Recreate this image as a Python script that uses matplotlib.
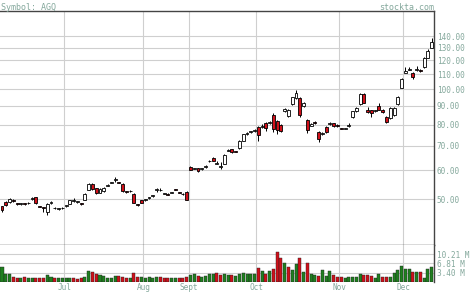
import matplotlib
matplotlib.use("Agg")
import matplotlib.pyplot as plt
from matplotlib.ticker import FixedLocator, FixedFormatter, NullLocator

# daily candles, AGQ mid-June .. early Dec
opens = [47.8, 49.0, 49.0, 49.6, 48.7, 48.5, 48.6, 48.7, 50.1, 50.5,
         47.7, 47.4, 46.2, 48.8, 47.3, 47.0, 47.2, 47.8, 48.6, 49.4,
         49.1, 48.6, 49.8, 53.0, 55.0, 53.5, 52.0, 52.5, 54.4, 55.4,
         56.4, 55.6, 55.0, 52.4, 52.5, 51.6, 48.4, 49.6, 49.7, 50.3,
         51.0, 53.0, 52.8, 51.7, 51.6, 52.0, 53.1, 52.2, 51.7, 52.3,
         61.4, 60.5, 60.8, 60.4, 61.2, 63.4, 65.0, 62.4, 61.2, 62.5,
         67.8, 68.5, 67.6, 69.0, 72.2, 75.4, 76.4, 76.8, 79.0, 78.8,
         81.0, 80.8, 85.0, 82.0, 80.0, 87.0, 84.5, 91.0, 94.5, 94.5,
         90.0, 82.5, 79.5, 81.2, 76.5, 75.2, 79.0, 80.4, 80.6, 80.0,
         78.2, 78.0, 79.3, 84.0, 87.0, 91.0, 97.0, 88.0, 87.5, 87.0,
         90.0, 88.0, 84.0, 83.5, 85.0, 91.0, 101.0, 111.0, 113.2, 111.0,
         113.0, 112.5, 115.0, 122.0, 130.0]
closes = [46.6, 48.1, 50.0, 49.4, 48.5, 48.6, 48.5, 48.8, 50.2, 48.7,
          47.6, 47.2, 48.4, 49.2, 47.1, 47.1, 47.3, 48.1, 49.6, 49.5,
          49.3, 48.5, 51.5, 55.0, 53.2, 51.8, 53.4, 53.6, 54.8, 55.6,
          56.5, 55.4, 52.6, 52.3, 52.7, 48.9, 48.3, 48.9, 49.9, 50.6,
          51.2, 53.1, 52.9, 51.8, 51.4, 52.1, 53.0, 52.0, 51.5, 49.8,
          60.1, 60.7, 59.6, 60.6, 61.6, 63.6, 63.6, 62.6, 61.3, 66.0,
          68.2, 67.2, 67.4, 72.0, 75.2, 75.6, 76.6, 77.2, 74.8, 79.2,
          78.2, 81.0, 78.0, 77.5, 77.0, 88.5, 88.0, 95.0, 98.0, 85.0,
          92.0, 77.5, 80.2, 81.0, 73.0, 75.8, 76.2, 80.8, 79.4, 79.2,
          78.0, 78.2, 79.6, 87.0, 88.8, 97.0, 92.0, 86.6, 86.2, 87.6,
          88.0, 86.5, 81.5, 89.0, 89.0, 95.5, 107.0, 112.0, 113.5, 108.0,
          113.4, 112.2, 122.0, 127.0, 135.0]
highs = [48.0, 49.3, 50.4, 49.9, 48.9, 48.8, 48.8, 49.0, 50.6, 50.7,
         47.9, 47.6, 48.7, 49.4, 47.6, 47.3, 47.5, 48.3, 49.8, 50.3,
         49.5, 48.8, 51.8, 55.3, 55.2, 53.7, 53.6, 53.8, 55.0, 55.8,
         57.4, 55.8, 55.2, 52.6, 53.0, 51.8, 48.6, 49.8, 50.1, 50.8,
         51.4, 53.7, 53.6, 52.0, 51.8, 52.3, 53.3, 52.4, 51.9, 52.5,
         61.6, 61.0, 61.0, 60.8, 61.8, 63.8, 65.3, 63.6, 63.0, 66.3,
         68.5, 68.8, 67.9, 72.4, 75.6, 76.6, 76.9, 77.6, 79.4, 80.4,
         81.4, 81.6, 86.0, 82.5, 80.4, 89.0, 88.4, 95.4, 99.5, 95.0,
         92.5, 83.0, 80.6, 81.6, 77.0, 76.2, 79.3, 81.2, 81.0, 80.3,
         78.5, 78.5, 80.6, 87.4, 89.6, 97.5, 97.4, 89.5, 88.0, 88.0,
         91.5, 88.3, 84.3, 89.4, 89.3, 95.8, 107.4, 115.0, 114.8, 111.4,
         115.5, 113.6, 122.5, 129.0, 138.5]
lows = [46.2, 47.8, 48.8, 49.1, 48.3, 48.3, 48.3, 48.5, 49.8, 48.5,
        47.4, 46.0, 45.2, 48.6, 46.9, 46.8, 47.0, 47.6, 48.4, 49.2,
        48.9, 48.3, 49.6, 52.8, 53.0, 51.5, 51.8, 52.3, 54.2, 55.2,
        55.8, 55.2, 52.4, 52.0, 52.3, 48.7, 47.8, 48.7, 49.5, 50.1,
        50.8, 52.4, 52.6, 51.5, 51.2, 51.8, 52.8, 51.8, 51.3, 49.6,
        59.9, 60.3, 59.4, 60.2, 61.0, 63.2, 63.4, 62.2, 60.4, 62.3,
        67.6, 67.0, 67.2, 68.8, 72.0, 75.0, 76.0, 76.4, 72.0, 78.4,
        76.8, 80.4, 76.5, 75.5, 76.5, 86.5, 84.0, 90.5, 94.0, 84.0,
        89.5, 76.0, 79.2, 80.4, 71.5, 74.8, 75.8, 80.0, 79.0, 78.9,
        77.7, 77.6, 79.0, 83.6, 86.8, 90.5, 91.5, 86.0, 84.0, 86.5,
        87.6, 86.0, 81.0, 83.0, 84.5, 90.6, 100.6, 110.5, 112.8, 106.5,
        112.5, 111.8, 114.6, 121.5, 129.5]
# volume in millions
volumes = [5.5, 3.0, 2.8, 1.8, 1.6, 1.5, 1.8, 1.4, 1.5, 1.3,
           1.6, 1.4, 2.4, 1.7, 1.5, 1.4, 1.5, 1.3, 1.6, 1.5,
           1.2, 1.6, 2.0, 4.0, 3.6, 3.0, 2.6, 2.2, 1.6, 1.4,
           2.2, 2.2, 2.0, 1.6, 1.5, 3.2, 1.8, 1.8, 1.6, 1.7,
           1.5, 1.9, 1.7, 1.5, 1.6, 1.5, 1.4, 1.3, 1.4, 1.9,
           2.6, 2.9, 2.3, 1.8, 2.2, 2.8, 3.0, 3.4, 2.6, 3.0,
           2.4, 2.6, 2.2, 3.0, 3.4, 3.0, 3.0, 2.8, 5.0, 4.0,
           3.0, 4.0, 4.7, 11.0, 8.8, 7.0, 5.5, 4.4, 6.6, 8.8,
           3.7, 7.0, 3.0, 2.6, 2.2, 4.4, 2.2, 4.0, 2.6, 1.8,
           1.8, 1.6, 1.8, 1.7, 2.0, 3.0, 2.6, 2.4, 2.2, 1.5,
           2.8, 2.0, 1.9, 2.0, 3.2, 4.4, 5.9, 4.7, 4.7, 3.7,
           3.7, 3.7, 1.5, 4.7, 5.5]

months = ["Jul", "Aug", "Sept", "Oct", "Nov", "Dec"]
month_start = [16.5, 37.5, 49.5, 67.5, 89.5, 106.5]
price_ticks = [50, 60, 70, 80, 90, 100, 110, 120, 130, 140]
vol_ticks = [3.40, 6.81, 10.21]

txt = "#84a89c"
grid = "#cfcfcf"
frame = "#444444"
red = "#d0101a"
green = "#1f801f"
mono = "DejaVu Sans Mono"

fig = plt.figure(figsize=(4.74, 2.93), dpi=100)
ax = fig.add_axes([0, 0.1638, 0.9156, 0.7987])
axv = fig.add_axes([0, 0.0375, 0.9156, 0.1263], sharex=ax)

n = len(closes)
idx = list(range(n))

# price panel
ax.set_yscale("log")
ax.set_ylim(37.4, 164)
ax.set_xlim(-0.53, n - 0.4)
for i in idx:
    ax.vlines(i, lows[i], highs[i], color="black", lw=0.7, zorder=2)
    lo = min(opens[i], closes[i])
    h = max(abs(closes[i] - opens[i]), lo * 0.004)
    fc = "white" if closes[i] >= opens[i] else red
    ax.bar(i, h, bottom=lo, width=0.78, color=fc, edgecolor="black",
           linewidth=0.6, zorder=3)

ax.yaxis.set_major_locator(FixedLocator(price_ticks))
ax.yaxis.set_major_formatter(FixedFormatter(["%.2f" % p for p in price_ticks]))
ax.yaxis.set_minor_locator(NullLocator())
ax.yaxis.tick_right()
ax.tick_params(axis="y", length=0, pad=2, labelsize=5.6, labelcolor=txt)
ax.tick_params(axis="x", length=0, labelbottom=False)
for lbl in ax.get_yticklabels():
    lbl.set_family(mono)
for p in price_ticks:
    ax.axhline(p, color=grid, lw=0.8, zorder=0)
for m in month_start:
    ax.axvline(m, color=grid, lw=0.8, zorder=0)
ax.spines["left"].set_visible(False)
for s in ["top", "right", "bottom"]:
    ax.spines[s].set_color(frame)
    ax.spines[s].set_linewidth(1.0)

# volume panel
vcol = [green] + [green if closes[i] >= closes[i - 1] else red for i in idx[1:]]
axv.bar(idx, volumes, width=0.8, color=vcol, edgecolor="#222222", linewidth=0.3, zorder=2)
axv.set_ylim(0, 13.5)
axv.yaxis.set_major_locator(FixedLocator(vol_ticks))
axv.yaxis.set_major_formatter(FixedFormatter(["%.2f M" % v for v in vol_ticks]))
axv.yaxis.tick_right()
axv.tick_params(axis="y", length=0, pad=2, labelsize=5.6, labelcolor=txt)
for v in vol_ticks:
    axv.axhline(v, color=grid, lw=0.8, zorder=0)
for m in month_start:
    axv.axvline(m, color=grid, lw=0.8, zorder=0)
axv.xaxis.set_major_locator(FixedLocator(month_start))
axv.xaxis.set_major_formatter(FixedFormatter(months))
axv.tick_params(axis="x", length=0, pad=1, labelsize=5.6, labelcolor=txt)
for lbl in axv.get_xticklabels() + axv.get_yticklabels():
    lbl.set_family(mono)
for s in ["left", "top", "bottom"]:
    axv.spines[s].set_visible(False)
axv.spines["right"].set_color(frame)
axv.spines["right"].set_linewidth(1.0)

fig.text(0.002, 0.99, "Symbol: AGQ", ha="left", va="top", fontsize=6, color=txt, family=mono)
fig.text(0.9156, 0.99, "stockta.com", ha="right", va="top", fontsize=6, color=txt, family=mono)

fig.savefig("out.png", dpi=100)
